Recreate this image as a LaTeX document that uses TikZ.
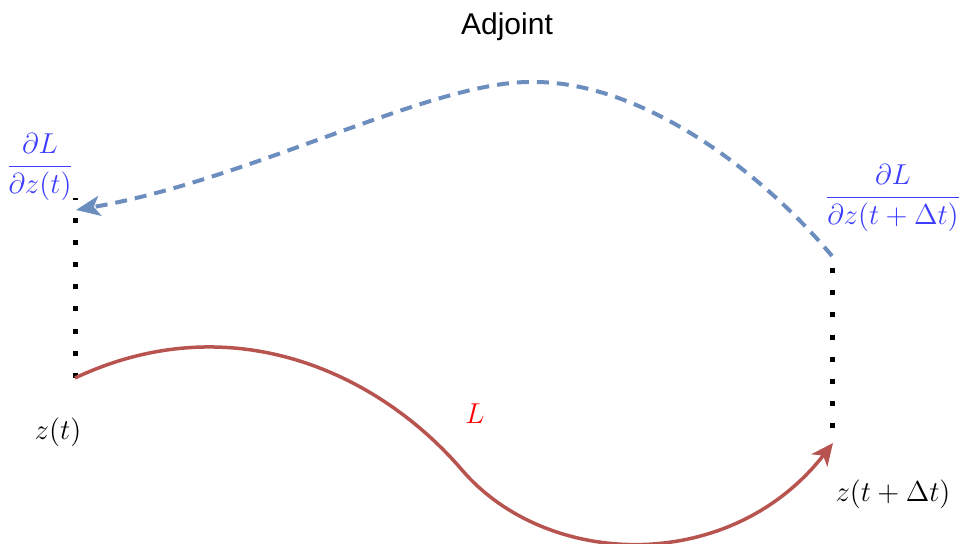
\documentclass[tikz,border=0pt]{standalone}
\usepackage{fontspec}
\newfontfamily\labelsans{Liberation Sans}
\usetikzlibrary{arrows.meta}
\definecolor{adjblue}{HTML}{6C8EBF}
\definecolor{lossred}{HTML}{B85450}
\definecolor{gradblue}{HTML}{3D3DFF}
\definecolor{lred}{HTML}{FF0000}
\begin{document}
\begin{tikzpicture}[x=0.5pt,y=-0.5pt,
  dots/.style={line width=2.5pt, line cap=butt, dash pattern=on 2.5pt off 8.6pt},
  adj/.style={adjblue, line width=2pt, dash pattern=on 6pt off 4pt,
    -{Stealth[length=12pt,width=10pt,inset=3pt]}},
  loss/.style={lossred, line width=1.75pt,
    -{Stealth[length=11pt,width=10pt,inset=3pt]}},
  lbl/.style={inner sep=0pt, font=\fontsize{14.8}{18}\selectfont},
  title/.style={inner sep=0pt, font=\labelsans\fontsize{15}{18}\selectfont}]
\useasboundingbox (0,0) rectangle (960,544);
% named points
\coordinate (lbot) at (75,378);
\coordinate (ltop) at (75,198);
\coordinate (rtop) at (832,256);
\coordinate (rdot) at (832,268);
\coordinate (rbot) at (832,430);
\coordinate (redend) at (833,443);
\coordinate (blueend) at (76,210);
\coordinate (rmid) at (462,470);
\coordinate (bpeak) at (530,82);
% labels
\node[title] (ttl) at (507,27) {Adjoint};
\node[lbl] (zt) at (58,432) {$z(t)$};
\node[lbl] (ztd) at (893,494) {$z(t+\Delta t)$};
\node[lbl, text=gradblue] (gt) at (40,167) {$\displaystyle\frac{\partial L}{\partial z(t)}$};
\node[lbl, text=gradblue] (gtd) at (893,198) {$\displaystyle\frac{\partial L}{\partial z(t+\Delta t)}$};
\node[lbl, text=lred] (L) at (475,414) {$L$};
% dotted verticals
\draw[dots] (lbot) -- (ltop);
\draw[dots] (rdot) -- (rbot);
% curves
\draw[adj] (rtop) .. controls (760,170) and (640,80) .. (bpeak)
  .. controls (430,82) and (250,180) .. (blueend);
\draw[loss] (lbot) .. controls (230,305) and (377,371) .. (rmid)
  .. controls (547,569) and (730,575) .. (redend);
\end{tikzpicture}
\end{document}
